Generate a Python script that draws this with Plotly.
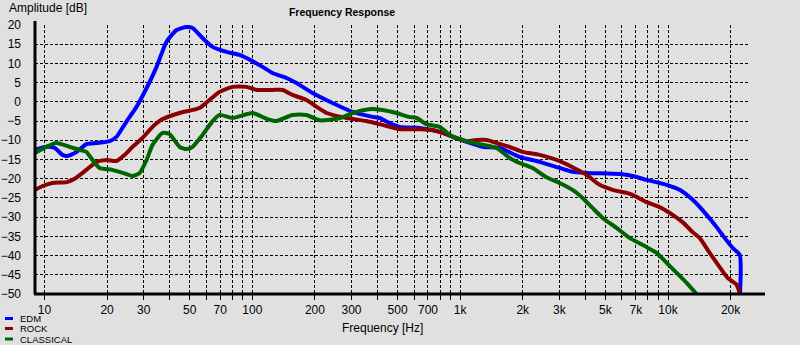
import math
import plotly.graph_objects as go

# ---------------- data ----------------
edm_f = [9.0, 10.2, 11.2, 12.2, 12.9, 14.3, 15.9, 17.8, 20.6, 22.2, 23.7, 25.1, 27.7, 31.0,
         34.6, 38.6, 43.2, 48.2, 51.6, 57.6, 64.4, 75.1, 86.8, 100, 112, 125, 146, 163, 195,
         243, 303, 379, 409, 457, 511, 638, 796, 919, 1074, 1282, 1547, 1932, 2411, 3009,
         3474, 4058, 5849, 6754, 7890, 9846, 11370, 13140, 15340, 17130, 18730, 20460,
         22120, 22200]
edm_db = [-12.5, -11.7, -12.0, -13.8, -14.1, -13.0, -11.0, -10.7, -10.2, -9.1, -6.8, -4.7,
          -1.3, 3.6, 9.1, 15.6, 18.7, 19.5, 19.2, 16.6, 14.3, 13.0, 12.2, 10.6, 9.1, 7.5, 6.2,
          4.9, 2.3, -0.3, -2.6, -3.9, -4.2, -5.5, -6.5, -6.8, -7.8, -9.1, -10.4, -11.7, -12.0,
          -14.3, -15.6, -17.2, -18.2, -18.5, -18.8, -19.3, -20.3, -21.6, -22.9, -25.5, -29.4,
          -32.6, -35.4, -38.0, -39.8, -50.0]

rock_f = [9.0, 9.8, 10.9, 12.8, 13.9, 15.9, 17.8, 19.9, 22.2, 24.3, 26.5, 29.6, 33.1, 36.6,
          44.6, 55.7, 62.2, 69.5, 80.3, 93.8, 104.8, 125, 140, 156, 182, 204, 228, 284, 354,
          423, 511, 638, 737, 860, 961, 1074, 1199, 1340, 1497, 1729, 1997, 2411, 2910, 3474,
          4058, 4688, 5412, 6321, 6754, 7890, 9111, 10520, 11750, 13140, 14190, 15860, 17720,
          19350, 21380, 22120]
rock_db = [-22.9, -21.9, -21.1, -20.9, -20.1, -17.7, -15.6, -15.1, -15.4, -13.8, -11.7, -9.4,
           -6.5, -4.6, -2.9, -1.6, 0.5, 2.6, 3.9, 3.9, 3.1, 3.1, 3.1, 1.8, 0.5, -1.3, -2.9,
           -4.2, -5.0, -6.0, -7.1, -7.1, -7.3, -8.4, -9.4, -10.2, -9.9, -9.9, -10.7, -11.7,
           -13.0, -13.8, -15.1, -17.0, -19.0, -21.6, -22.9, -23.7, -24.2, -26.1, -27.4, -29.4,
           -31.3, -33.9, -35.4, -39.3, -43.0, -45.8, -47.6, -49.8]

classical_f = [9.0, 10.2, 11.4, 13.2, 14.7, 15.9, 17.0, 18.4, 21.2, 24.8, 26.5, 28.7, 31.0,
               33.1, 37.0, 40.0, 44.6, 48.2, 51.6, 57.6, 64.4, 69.5, 80.3, 100, 117, 130, 156,
               182, 211, 265, 303, 365, 423, 494, 566, 617, 689, 796, 860, 919, 1074, 1240,
               1497, 1729, 1932, 2230, 2600, 3009, 3474, 3882, 4330, 4850, 5657, 6534, 7890,
               8810, 9846, 11000, 12280, 13730]
classical_db = [-13.3, -11.7, -10.7, -11.7, -12.5, -13.0, -15.1, -17.2, -17.7, -18.8, -19.3,
                -18.5, -15.1, -11.2, -8.1, -8.4, -11.7, -12.3, -11.7, -8.6, -5.0, -3.4, -4.2,
                -2.9, -4.4, -5.0, -3.4, -3.4, -4.8, -4.2, -2.9, -1.9, -2.1, -2.9, -3.9, -4.2,
                -5.8, -6.5, -7.9, -9.1, -10.2, -11.0, -12.0, -14.6, -15.9, -17.2, -19.6, -21.1,
                -22.9, -25.0, -27.6, -30.2, -32.8, -35.4, -37.8, -39.3, -41.9, -44.5, -47.1,
                -50.0]

series_names = ["EDM", "ROCK", "CLASSICAL"]
series_colors = ["#0000FF", "#8B0000", "#006400"]

x_grid = [10, 20, 30, 40, 50, 60, 70, 80, 90,
          100, 200, 300, 400, 500, 600, 700, 800, 900,
          1000, 2000, 3000, 4000, 5000, 6000, 7000, 8000, 9000,
          10000, 20000]
x_labels = {10: "10", 20: "20", 30: "30", 50: "50", 70: "70", 100: "100", 200: "200",
            300: "300", 500: "500", 700: "700", 1000: "1k", 2000: "2k", 3000: "3k",
            5000: "5k", 7000: "7k", 10000: "10k", 20000: "20k"}
y_ticks = list(range(-50, 25, 5))

# ---------------- figure ----------------
BG = "#E0E0E0"
FONT = "Liberation Sans, Arial, sans-serif"
W, H = 800, 345
L, R, T, B = 35, 50, 25, 51
pw, ph = W - L - R, H - T - B


def px_x(px):
    return (px - L) / pw


def px_y(py):
    return (H - B - py) / ph


fig = go.Figure()
for name, color, fx, fy in zip(series_names, series_colors,
                               [edm_f, rock_f, classical_f],
                               [edm_db, rock_db, classical_db]):
    fig.add_trace(go.Scatter(x=fx, y=fy, mode="lines", name=name,
                             line=dict(color=color, width=4, shape="spline", smoothing=0.6),
                             showlegend=False, cliponaxis=True))

fig.update_layout(
    width=W, height=H,
    margin=dict(l=L, r=R, t=T, b=B, pad=0, autoexpand=False),
    paper_bgcolor=BG, plot_bgcolor=BG,
    font=dict(family=FONT, size=12, color="black"),
    title=dict(text="<b>Frequency Response</b>", x=342 / W, xref="container", xanchor="center",
               y=1 - 12 / H, yref="container", yanchor="middle",
               font=dict(family=FONT, size=10.5, color="black")),
    xaxis=dict(type="log", range=[math.log10(9), math.log10(24800)], automargin=False,
               tickvals=x_grid, ticktext=[x_labels.get(v, "") for v in x_grid],
               showgrid=True, gridcolor="black", gridwidth=1, griddash="3px,2px",
               ticks="outside", ticklen=5, tickcolor="black", tickwidth=1,
               showline=False, zeroline=False,
               tickfont=dict(family=FONT, size=12, color="black")),
    yaxis=dict(range=[-50, 20], tickvals=y_ticks, automargin=False,
               showgrid=True, gridcolor="black", gridwidth=1, griddash="3px,2px",
               ticks="", showline=False, zeroline=False, ticklabelstandoff=13,
               tickfont=dict(family=FONT, size=12, color="black")),
)

shapes = [
    dict(type="line", xref="paper", yref="paper", x0=0, x1=0, y0=0, y1=px_y(21),
         line=dict(color="black", width=3), layer="above"),
    dict(type="line", xref="paper", yref="paper", x0=px_x(34), x1=px_x(765), y0=0, y1=0,
         line=dict(color="black", width=3), layer="above"),
]
legend_y = [318.5, 328.5, 339]
annotations = [
    dict(text="Amplitude [dB]", xref="paper", yref="paper", x=px_x(8), y=px_y(8),
         xanchor="left", yanchor="middle", showarrow=False, borderpad=0,
         font=dict(family=FONT, size=12, color="black")),
    dict(text="Frequency [Hz]", xref="paper", yref="paper", x=px_x(382), y=px_y(328),
         xanchor="center", yanchor="middle", showarrow=False, borderpad=0,
         font=dict(family=FONT, size=12, color="black")),
]
for name, color, ly in zip(series_names, series_colors, legend_y):
    shapes.append(dict(type="line", xref="paper", yref="paper", x0=px_x(5), x1=px_x(13),
                       y0=px_y(ly), y1=px_y(ly), line=dict(color=color, width=3)))
    annotations.append(dict(text=name, xref="paper", yref="paper", x=px_x(19), y=px_y(ly),
                            xanchor="left", yanchor="middle", showarrow=False, borderpad=0,
                            font=dict(family=FONT, size=9.5, color="black")))
fig.update_layout(shapes=shapes, annotations=annotations)

fig.write_html("out.html")
